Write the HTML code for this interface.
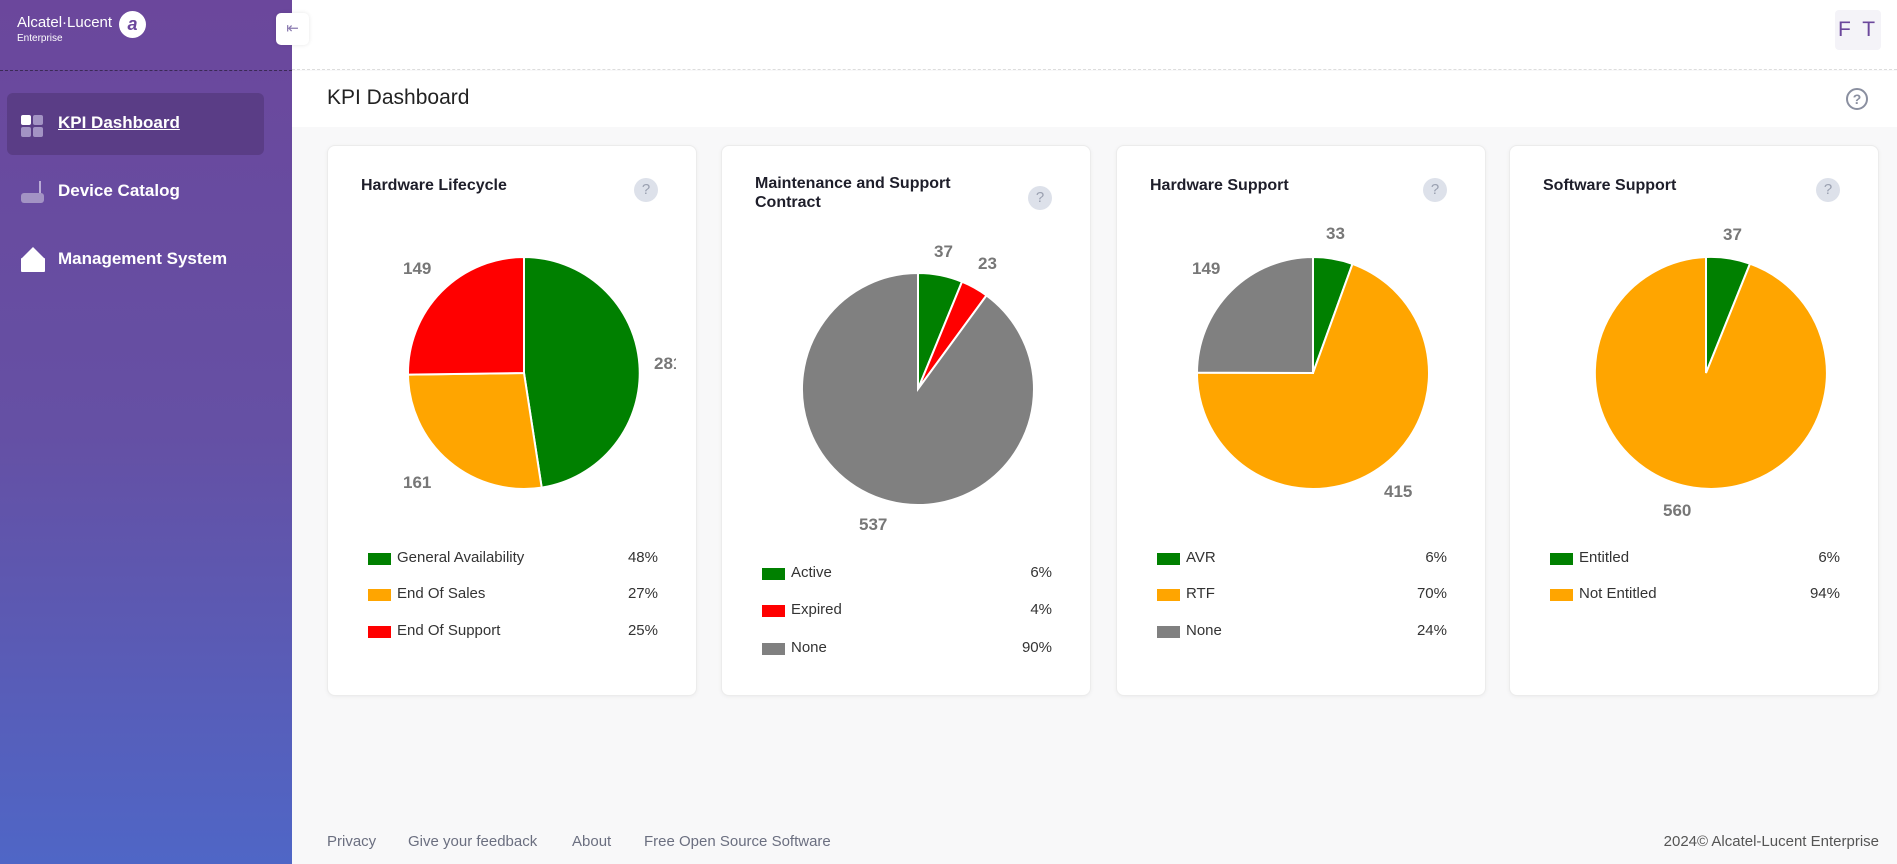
<!DOCTYPE html>
<html><head><meta charset="utf-8"><style>
*{box-sizing:border-box;margin:0;padding:0}
body{width:1897px;height:864px;overflow:hidden;font-family:"Liberation Sans",sans-serif;background:#f8f8f9;position:relative}
.side{position:absolute;left:0;top:0;width:292px;height:864px;background:linear-gradient(180deg,#6b479c 0%,#6550a4 50%,#4f66c6 100%)}
.abs{position:absolute}
.top{position:absolute;left:292px;top:0;right:0;height:70px;background:#fff;border-bottom:1px dashed #ddd}
.tbar{position:absolute;left:292px;top:71px;right:0;height:56px;background:#fff}
.card{position:absolute;top:145px;width:370px;height:551px;background:#fff;border:1px solid #ececec;border-radius:8px;box-shadow:0 1px 4px rgba(0,0,0,.05)}
.ttl{position:absolute;left:33px;font-size:16px;font-weight:bold;color:#1e1e2a;line-height:19px}
.hlp{position:absolute;left:306px;width:24px;height:24px;border-radius:50%;background:#dde1ea;color:#9aa0b0;font-size:15px;text-align:center;line-height:24px}
.leg{position:absolute;left:40px;width:290px;font-size:15px;color:#333;height:18px;line-height:18px}
.leg i{position:absolute;left:0;top:4px;width:23px;height:12px}
.leg span{position:absolute;left:29px}
.leg b{position:absolute;right:0;font-weight:normal}
svg text{font-family:"Liberation Sans",sans-serif;font-weight:bold;font-size:17px;fill:#777}
.nav{position:absolute;left:58px;color:#fff;font-weight:bold;font-size:17px}
.foot{position:absolute;top:833px;font-size:15px;color:#6b6f80}
</style></head><body>
<div class="side">
 <div class="abs" style="left:17px;top:14px;color:#fff;font-size:15px">Alcatel·Lucent</div>
 <div class="abs" style="left:17px;top:33px;color:#fff;font-size:10px">Enterprise</div>
 <div class="abs" style="left:119px;top:11px;width:27px;height:27px;border-radius:50%;background:#fff;color:#6b479c;font-style:italic;font-weight:bold;text-align:center;line-height:27px;font-size:18px">a</div>
 <div class="abs" style="left:0;top:70px;width:292px;border-top:1px dashed #3a2a55"></div>
 <div class="abs" style="left:7px;top:93px;width:257px;height:62px;border-radius:6px;background:#5a3d86"></div>
 <div class="abs" style="left:21px;top:115px;width:10px;height:10px;background:#fff;border-radius:2px"></div>
 <div class="abs" style="left:33px;top:115px;width:10px;height:10px;background:#a393c4;border-radius:2px"></div>
 <div class="abs" style="left:21px;top:127px;width:10px;height:10px;background:#a393c4;border-radius:2px"></div>
 <div class="abs" style="left:33px;top:127px;width:10px;height:10px;background:#a393c4;border-radius:2px"></div>
 <div class="nav" style="top:113px;text-decoration:underline">KPI Dashboard</div>
 <div class="abs" style="left:39px;top:181px;width:2px;height:14px;background:#b9abd6"></div>
 <div class="abs" style="left:21px;top:193px;width:23px;height:10px;background:#a393c4;border-radius:3px"></div>
 <div class="nav" style="top:181px">Device Catalog</div>
 <div class="abs" style="left:21px;top:258px;width:24px;height:14px;background:#fff;border-radius:1px"></div>
 <div class="abs" style="left:21px;top:247px;width:0;height:0;border-left:12px solid transparent;border-right:12px solid transparent;border-bottom:12px solid #fff"></div>
 <div class="nav" style="top:249px">Management System</div>
</div>
<div class="abs" style="left:276px;top:13px;width:33px;height:32px;background:#fff;border-radius:5px;box-shadow:0 0 4px rgba(0,0,0,.1);color:#8b7bb0;text-align:center;line-height:32px;font-size:15px;z-index:2">⇤</div>
<div class="top"></div>
<div class="abs" style="left:1835px;top:10px;width:46px;height:40px;background:#f4f3f8;border-radius:4px;color:#6b479c;font-size:21px;text-align:center;line-height:40px;letter-spacing:3px">F T</div>
<div class="tbar"></div>
<div class="abs" style="left:327px;top:86px;font-size:21px;color:#222">KPI Dashboard</div>
<div class="abs" style="left:1846px;top:88px;width:22px;height:22px;border:2px solid #8a8fa0;border-radius:50%;color:#8a8fa0;font-size:14px;text-align:center;line-height:18px;font-weight:bold">?</div>

<div class="card" style="left:327px">
 <div class="ttl" style="top:30px">Hardware Lifecycle</div>
 <div class="hlp" style="top:32px">?</div>
 <svg class="abs" style="left:0;top:0" width="348" height="400">
  <path d="M196,227 L196,111 A116,116 0 0 1 213.7,341.6 Z" fill="#008000" stroke="#fff" stroke-width="2"/>
  <path d="M196,227 L213.7,341.6 A116,116 0 0 1 80,228.6 Z" fill="#ffa500" stroke="#fff" stroke-width="2"/>
  <path d="M196,227 L80,228.6 A116,116 0 0 1 196,111 Z" fill="#ff0000" stroke="#fff" stroke-width="2"/>
  <text x="326" y="223">281</text><text x="75" y="342">161</text><text x="75" y="128">149</text>
 </svg>
 <div class="leg" style="top:403px"><i style="background:#008000"></i><span>General Availability</span><b>48%</b></div>
 <div class="leg" style="top:439px"><i style="background:#ffa500"></i><span>End Of Sales</span><b>27%</b></div>
 <div class="leg" style="top:476px"><i style="background:#ff0000"></i><span>End Of Support</span><b>25%</b></div>
</div>

<div class="card" style="left:721px">
 <div class="ttl" style="top:28px">Maintenance and Support<br>Contract</div>
 <div class="hlp" style="top:40px">?</div>
 <svg class="abs" style="left:0;top:0" width="370" height="420">
  <path d="M196,243 L196,127 A116,116 0 0 1 240,135.7 Z" fill="#008000" stroke="#fff" stroke-width="2"/>
  <path d="M196,243 L240,135.7 A116,116 0 0 1 264.5,149.4 Z" fill="#ff0000" stroke="#fff" stroke-width="2"/>
  <path d="M196,243 L264.5,149.4 A116,116 0 1 1 196,127 Z" fill="#808080" stroke="#fff" stroke-width="2"/>
  <text x="212" y="111">37</text><text x="256" y="123">23</text><text x="137" y="384">537</text>
 </svg>
 <div class="leg" style="top:418px"><i style="background:#008000"></i><span>Active</span><b>6%</b></div>
 <div class="leg" style="top:455px"><i style="background:#ff0000"></i><span>Expired</span><b>4%</b></div>
 <div class="leg" style="top:493px"><i style="background:#808080"></i><span>None</span><b>90%</b></div>
</div>

<div class="card" style="left:1116px">
 <div class="ttl" style="top:30px">Hardware Support</div>
 <div class="hlp" style="top:32px">?</div>
 <svg class="abs" style="left:0;top:0" width="370" height="400">
  <path d="M196,227 L196,111 A116,116 0 0 1 235.5,117.9 Z" fill="#008000" stroke="#fff" stroke-width="2"/>
  <path d="M196,227 L235.5,117.9 A116,116 0 1 1 80,226.6 Z" fill="#ffa500" stroke="#fff" stroke-width="2"/>
  <path d="M196,227 L80,226.6 A116,116 0 0 1 196,111 Z" fill="#808080" stroke="#fff" stroke-width="2"/>
  <text x="209" y="93">33</text><text x="267" y="351">415</text><text x="75" y="128">149</text>
 </svg>
 <div class="leg" style="top:403px"><i style="background:#008000"></i><span>AVR</span><b>6%</b></div>
 <div class="leg" style="top:439px"><i style="background:#ffa500"></i><span>RTF</span><b>70%</b></div>
 <div class="leg" style="top:476px"><i style="background:#808080"></i><span>None</span><b>24%</b></div>
</div>

<div class="card" style="left:1509px">
 <div class="ttl" style="top:30px">Software Support</div>
 <div class="hlp" style="top:32px">?</div>
 <svg class="abs" style="left:0;top:0" width="370" height="400">
  <path d="M196,227 L196,111 A116,116 0 0 1 240,117.7 Z" fill="#008000" stroke="#fff" stroke-width="2"/>
  <path d="M196,227 L240,117.7 A116,116 0 1 1 196,111 Z" fill="#ffa500" stroke="#fff" stroke-width="2"/>
  <text x="213" y="94">37</text><text x="153" y="370">560</text>
 </svg>
 <div class="leg" style="top:403px"><i style="background:#008000"></i><span>Entitled</span><b>6%</b></div>
 <div class="leg" style="top:439px"><i style="background:#ffa500"></i><span>Not Entitled</span><b>94%</b></div>
</div>

<div class="foot" style="left:327px">Privacy</div>
<div class="foot" style="left:408px">Give your feedback</div>
<div class="foot" style="left:572px">About</div>
<div class="foot" style="left:644px">Free Open Source Software</div>
<div class="foot" style="right:18px;color:#555">2024© Alcatel-Lucent Enterprise</div>
</body></html>
